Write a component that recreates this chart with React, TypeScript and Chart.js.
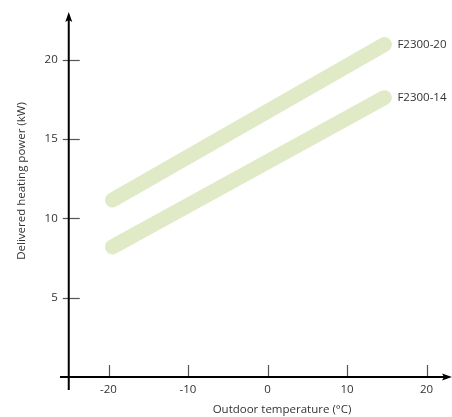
import React, { useEffect, useRef } from 'react';
import { Chart, registerables } from 'chart.js';

Chart.register(...registerables);

const temperatures = [-19.5, 14.7];
const seriesNames = ['F2300-20', 'F2300-14'];
const powerF2300_20 = [11.15, 20.95];
const powerF2300_14 = [8.2, 17.6];
const xTicks = [-20, -10, 0, 10, 20];
const yTicks = [5, 10, 15, 20];
const xTitle = 'Outdoor temperature (°C)';
const yTitle = 'Delivered heating power (kW)';

const LINE_COLOR = '#e1eac6';
const FONT = '"Open Sans", "Noto Sans", sans-serif';

const axesPlugin = {
  id: 'customAxes',
  afterDatasetsDraw(chart: any) {
    const ctx = chart.ctx;
    const xs = chart.scales.x;
    const ys = chart.scales.y;
    const axisX = xs.getPixelForValue(-25);
    const axisY = ys.getPixelForValue(0);
    const left = chart.chartArea.left;
    const right = chart.chartArea.right;
    const top = chart.chartArea.top;
    const bottom = chart.chartArea.bottom;

    ctx.save();
    // tick marks
    ctx.strokeStyle = '#555';
    ctx.lineWidth = 1.2;
    yTicks.forEach((v) => {
      const py = Math.round(ys.getPixelForValue(v)) + 0.5;
      ctx.beginPath();
      ctx.moveTo(axisX - 6, py);
      ctx.lineTo(axisX + 11, py);
      ctx.stroke();
    });
    xTicks.forEach((v) => {
      const px = Math.round(xs.getPixelForValue(v)) + 0.5;
      ctx.beginPath();
      ctx.moveTo(px, axisY - 12);
      ctx.lineTo(px, axisY);
      ctx.stroke();
    });

    // axis lines
    ctx.strokeStyle = '#000';
    ctx.lineWidth = 2;
    ctx.beginPath();
    ctx.moveTo(axisX, bottom);
    ctx.lineTo(axisX, top + 6);
    ctx.stroke();
    ctx.beginPath();
    ctx.moveTo(left, axisY);
    ctx.lineTo(right - 6, axisY);
    ctx.stroke();

    // arrow heads
    ctx.fillStyle = '#000';
    ctx.beginPath();
    ctx.moveTo(axisX, top);
    ctx.lineTo(axisX - 3.5, top + 10);
    ctx.lineTo(axisX, top + 8);
    ctx.lineTo(axisX + 3.5, top + 10);
    ctx.closePath();
    ctx.fill();
    ctx.beginPath();
    ctx.moveTo(right, axisY);
    ctx.lineTo(right - 10, axisY - 3.5);
    ctx.lineTo(right - 8, axisY);
    ctx.lineTo(right - 10, axisY + 3.5);
    ctx.closePath();
    ctx.fill();

    // tick labels
    ctx.fillStyle = '#333';
    ctx.font = `11.5px ${FONT}`;
    ctx.textAlign = 'right';
    ctx.textBaseline = 'middle';
    yTicks.forEach((v) => {
      ctx.fillText(String(v), axisX - 11, ys.getPixelForValue(v));
    });
    ctx.textAlign = 'center';
    ctx.textBaseline = 'middle';
    xTicks.forEach((v) => {
      ctx.fillText(String(v), xs.getPixelForValue(v), axisY + 13);
    });

    // series labels
    ctx.textAlign = 'left';
    ctx.textBaseline = 'middle';
    chart.data.datasets.forEach((ds: any, i: number) => {
      const meta = chart.getDatasetMeta(i);
      const last = meta.data[meta.data.length - 1];
      ctx.fillText(seriesNames[i], last.x + 13, last.y);
    });

    // axis titles
    ctx.textAlign = 'center';
    ctx.fillText(xTitle, 282, axisY + 33);
    ctx.save();
    ctx.translate(22, 181);
    ctx.rotate(-Math.PI / 2);
    ctx.fillText(yTitle, 0, 0);
    ctx.restore();

    ctx.restore();
  },
};

export default function App() {
  const canvasRef = useRef<HTMLCanvasElement | null>(null);

  useEffect(() => {
    if (!canvasRef.current) return;
    const mk = (ys: number[]) => temperatures.map((t, i) => ({ x: t, y: ys[i] }));
    const chart = new Chart(canvasRef.current, {
      type: 'scatter',
      data: {
        datasets: [
          {
            label: seriesNames[0],
            data: mk(powerF2300_20),
            showLine: true,
            borderColor: LINE_COLOR,
            borderWidth: 15,
            borderCapStyle: 'round',
            pointRadius: 0,
            pointHoverRadius: 0,
          },
          {
            label: seriesNames[1],
            data: mk(powerF2300_14),
            showLine: true,
            borderColor: LINE_COLOR,
            borderWidth: 15,
            borderCapStyle: 'round',
            pointRadius: 0,
            pointHoverRadius: 0,
          },
        ],
      },
      options: {
        responsive: false,
        animation: false,
        maintainAspectRatio: false,
        layout: { padding: { left: 60, right: 0, top: 12, bottom: 27 } },
        plugins: { legend: { display: false }, tooltip: { enabled: false } },
        scales: {
          x: { type: 'linear', display: false, min: -26.1, max: 23.2 },
          y: { type: 'linear', display: false, min: -0.82, max: 23.0 },
        },
      },
      plugins: [axesPlugin],
    });
    return () => chart.destroy();
  }, []);

  return (
    <div style={{ position: 'fixed', left: 0, top: 0, width: 452, height: 417, background: '#fff' }}>
      <canvas ref={canvasRef} width={452} height={417} style={{ display: 'block' }} />
    </div>
  );
}
